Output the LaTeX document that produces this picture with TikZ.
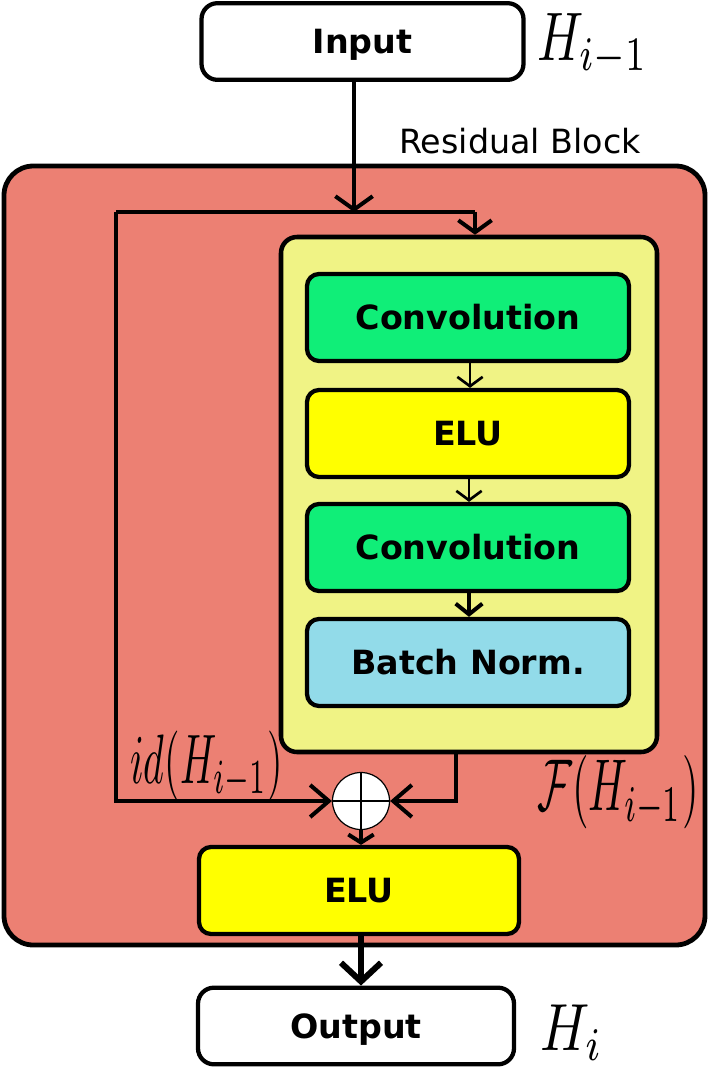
\documentclass[tikz,border=0pt]{standalone}
\usepackage[no-math]{fontspec}
\usepackage{graphicx}
\usetikzlibrary{arrows.meta,shapes.geometric}
\newfontfamily\djv{DejaVu Sans}
\definecolor{salmon}{RGB}{236,128,115}
\definecolor{paleyel}{RGB}{240,243,133}
\definecolor{convgreen}{RGB}{16,238,120}
\definecolor{elugold}{RGB}{255,255,0}
\definecolor{normblue}{RGB}{146,219,233}

\begin{document}
\begin{tikzpicture}[x=0.75pt,y=-0.75pt,
    layer/.style={rectangle, rounded corners=9pt, draw, line width=3.2pt,
      minimum width=241.5pt, minimum height=65.25pt,
      text height=18.2pt, text depth=0pt,
      font=\djv\bfseries\fontsize{25}{30}\selectfont},
    io/.style={layer, fill=white, rounded corners=12pt, minimum height=57.5pt},
    lbl/.style={inner sep=0pt, anchor=base west},
    mainconn/.style={line width=3pt, -{Straight Barb[length=10pt,width=28pt]}},
    thinconn/.style={line width=2pt, -{Straight Barb[length=7pt,width=19pt]}}]

  \useasboundingbox (0,0) rectangle (712,1068);

  \node[rectangle, rounded corners=22pt, draw, line width=3.6pt, fill=salmon,
    minimum width=525.75pt, minimum height=584.25pt] (res) at (354.5,555.5) {};
  \node[rectangle, rounded corners=12pt, draw, line width=3.4pt, fill=paleyel,
    minimum width=282pt, minimum height=386.25pt] (F) at (469,494.5) {};

  \node[io] (in) at (362.5,41.5) {Input};
  \node[io, minimum width=237pt] (out) at (356,1026) {Output};

  \node[layer, fill=convgreen] (conv1) at (468,317.5) {Convolution};
  \node[layer, fill=elugold] (elu1) at (468,433.5) {ELU};
  \node[layer, fill=convgreen] (conv2) at (468,547.5) {Convolution};
  \node[layer, fill=normblue] (bn) at (468,662.5) {Batch Norm.};
  \node[layer, fill=elugold, minimum width=240pt] (elu2) at (359,890.5) {ELU};

  \node[circle, draw, fill=white, line width=0.9pt, minimum size=42.75pt,
    inner sep=0pt] (add) at (361,801) {};
  \draw[line width=0.9pt] (add.north) -- (add.south) (add.west) -- (add.east);

  \node[font=\djv\fontsize{25}{30}\selectfont] (title) at (520,141) {Residual Block};
  \node[lbl] (hin) at (537,60)
    {\fontsize{10}{12}\selectfont\scalebox{3.8}[5.15]{$H_{i-1}$}};
  \node[lbl] (hout) at (540,1050)
    {\fontsize{10}{12}\selectfont\scalebox{4.05}[5.0]{$H_i$}};
  \node[lbl] (idl) at (130,783)
    {\fontsize{10}{12}\selectfont\scalebox{2.98}[5.25]{$id(H_{i-1})$}};
  \node[lbl] (fl) at (537,810)
    {\fontsize{10}{12}\selectfont\scalebox{3.2}[5.5]{$\mathcal{F}(H_{i-1})$}};

  \coordinate (split) at (354,212);
  \coordinate (tl) at (116,212);
  \coordinate (fin) at (475,212);
  \coordinate (fout) at (456,752);

  \draw[mainconn] (in.south -| split) -- (split);
  \draw[line width=3pt] (tl) -- (fin);
  \draw[mainconn, -{Straight Barb[length=9pt,width=25pt]}] (fin) -- (fin |- F.north);
  \draw[mainconn, -{Straight Barb[length=14pt,width=24pt]}] (tl) |- (add.west);
  \draw[mainconn, -{Straight Barb[length=14pt,width=24pt]}] (F.south -| fout) |- (add.east);

  \draw[thinconn] (conv1.south -| 470,0) -- (elu1.north -| 470,0);
  \draw[thinconn] (elu1.south -| 469,0) -- (conv2.north -| 469,0);
  \draw[mainconn, -{Straight Barb[length=8pt,width=20pt]}] (conv2.south -| 469,0) -- (bn.north -| 469,0);
  \draw[mainconn, -{Straight Barb[length=6pt,width=19pt]}] (add.south) -- (add.south |- elu2.north);
  \draw[line width=4.5pt, -{Straight Barb[length=14pt,width=30pt]}]
    (elu2.south -| 361,0) -- (out.north -| 361,0);
\end{tikzpicture}
\end{document}
